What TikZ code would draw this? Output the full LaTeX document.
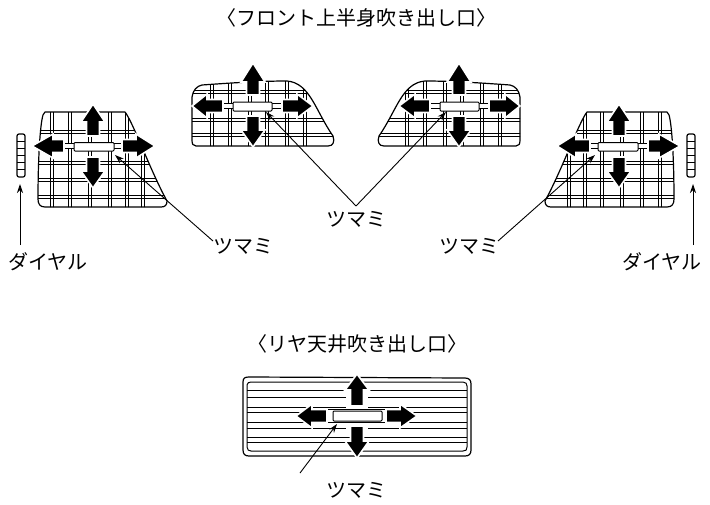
\documentclass[tikz,border=0pt]{standalone}
\usepackage{fontspec}
\setmainfont{Noto Sans CJK JP}
\usetikzlibrary{arrows.meta}
\tikzset{
  outline/.style={draw=black,line width=1.2pt,line join=round},
  gridline/.style={draw=black,line width=0.9pt},
  fat/.style={fill=black,draw=white,line width=1.6pt,line join=miter},
  knob/.style={fill=white,draw=black,line width=1pt,rounded corners=1pt},
  halo/.style={draw=white,line width=5pt},
  leader/.style={draw=black,line width=0.9pt,-{Stealth[length=9pt,width=6pt]},shorten >=0pt},
  lbl/.style={font=\fontsize{20}{20}\selectfont,inner sep=0pt,text=black}
}
\newcommand{\vfat}[5]{\path[fat] (#1,#2) -- (#1+#5,#3) -- (#1+6.5,#3) -- (#1+6.5,#4) -- (#1-6.5,#4) -- (#1-6.5,#3) -- (#1-#5,#3) -- cycle;}
\newcommand{\hfat}[5]{\path[fat] (#2,#1) -- (#3,#1+#5) -- (#3,#1+6.5) -- (#4,#1+6.5) -- (#4,#1-6.5) -- (#3,#1-6.5) -- (#3,#1-#5) -- cycle;}
\newcommand{\doublev}[3]{\draw[gridline] (#1-1.8,#2) -- (#1-1.8,#3) (#1+1.8,#2) -- (#1+1.8,#3);}
\newcommand{\doubleh}[3]{\draw[gridline] (#2,#1-1.6) -- (#3,#1-1.6) (#2,#1+1.6) -- (#3,#1+1.6);}
\def\shapeA{(45,112) -- (125,112) .. controls (133,122) and (150,170) .. (167,201) .. controls (167,205) and (165,207) .. (161,207) -- (45,207) .. controls (40,207) and (38,204) .. (38,199) .. controls (38,160) and (40,125) .. (43,115) -- cycle}
\def\shapeB{(202,85) .. controls (230,83) and (260,81) .. (287,81) .. controls (310,83) and (315,110) .. (333,136) .. controls (335,142) and (333,146) .. (328,146) -- (196,146) .. controls (193,146) and (192,144) .. (192,140) -- (192,97) .. controls (193,90) and (197,86) .. (202,85) -- cycle}
\newcommand{\ventouter}{%
  \begin{scope}
    \clip \shapeA;
    \foreach \x in {52,70,90,110,127,143}{\doublev{\x}{105}{210}}
    \foreach \y in {132,163,180,197}{\doubleh{\y}{30}{170}}
  \end{scope}
  \draw[outline] \shapeA;
  \draw[halo] (64,146) -- (122,146);
  \draw[gridline] (64,143.5) -- (122,143.5) (64,148.5) -- (122,148.5);
  \vfat{93}{104}{122}{136}{12}
  \vfat{93}{188}{171}{157}{12}
  \hfat{146}{32}{53}{64}{12}
  \hfat{146}{155}{136}{122}{12}
  \draw[knob] (74,142.5) rectangle (114,151);
  \draw[outline,rounded corners=2pt] (17,134) rectangle (25,177);
  \foreach \y in {141,148,155,162,169}{\draw[gridline] (17,\y) -- (25,\y);}
}
\newcommand{\venttop}{%
  \begin{scope}
    \clip \shapeB;
    \foreach \x in {212,230,250,267,287,305}{\doublev{\x}{75}{150}}
    \foreach \y in {92,120,135}{\doubleh{\y}{185}{340}}
  \end{scope}
  \draw[outline] \shapeB;
  \draw[halo] (223,106) -- (282,106);
  \draw[gridline] (223,103.5) -- (282,103.5) (223,108.5) -- (282,108.5);
  \vfat{253}{63}{82}{95}{12}
  \vfat{253}{147}{130}{116}{12}
  \hfat{106}{192}{207}{223}{12}
  \hfat{106}{313}{297}{282}{12}
  \draw[knob] (233,102) rectangle (272,111);
}
\begin{document}
\begin{tikzpicture}[x=1pt,y=-1pt]
\useasboundingbox (0,0) rectangle (710,504);
\ventouter
\venttop
\begin{scope}[shift={(712,0)},xscale=-1]
  \ventouter
  \venttop
\end{scope}
% rear vent
\draw[outline] (243,382) .. controls (243,378) and (245,377) .. (249,377) -- (465,378) .. controls (469,378) and (471,380) .. (471,384) -- (471,450) .. controls (471,454) and (469,456) .. (465,456) -- (249,456) .. controls (245,456) and (243,454) .. (243,450) -- cycle;
\draw[outline,line width=1pt] (247,385) .. controls (247,383) and (249,382) .. (251,382) -- (463,382) .. controls (466,382) and (467,384) .. (467,386) -- (467,447) .. controls (467,450) and (466,451) .. (463,451) -- (251,451) .. controls (249,451) and (247,450) .. (247,447) -- cycle;
\foreach \y in {390,397,407,412,422,428,437,442}{\draw[gridline] (247,\y) -- (467,\y);}
\draw[draw=white,line width=14pt] (316,416) -- (398,416);
\draw[draw=white,line width=22pt] (357,395) -- (357,437);
\draw[gridline] (313,409.5) -- (401,409.5) (313,422.5) -- (401,422.5);
\vfat{357}{374}{390}{406}{12}
\vfat{357}{458}{441}{426}{12}
\hfat{416}{296}{312}{327}{12}
\hfat{416}{417}{400}{386}{12}
\draw[knob] (333,411) rectangle (382,421);
% labels
\node[lbl] (t1) at (356,18) {〈フロント上半身吹き出し口〉};
\node[lbl] (t2) at (357,344) {〈リヤ天井吹き出し口〉};
\node[lbl] (dl) at (48,262) {ダイヤル};
\node[lbl] (dr) at (662,262) {ダイヤル};
\node[lbl] (kl) at (243,246) {ツマミ};
\node[lbl] (kr) at (469,246) {ツマミ};
\node[lbl] (kc) at (356,219) {ツマミ};
\node[lbl] (kb) at (356,490) {ツマミ};
\coordinate (pdl) at (20,184);
\coordinate (sdl) at (20,245);
\coordinate (pdr) at (693,184);
\coordinate (sdr) at (693,245);
\coordinate (pkl) at (115,155);
\coordinate (skl) at (213,241);
\coordinate (pkr) at (595,155);
\coordinate (skr) at (498,241);
\coordinate (pc1) at (266,112);
\coordinate (pc2) at (446,112);
\coordinate (sc) at (356,206);
\coordinate (pkb) at (337,424);
\coordinate (skb) at (300,473);
\draw[leader] (sdl) -- (pdl);
\draw[leader] (sdr) -- (pdr);
\draw[leader] (skl) -- (pkl);
\draw[leader] (skr) -- (pkr);
\draw[leader] (sc) -- (pc1);
\draw[leader] (sc) -- (pc2);
\draw[leader] (skb) -- (pkb);
\end{tikzpicture}
\end{document}
